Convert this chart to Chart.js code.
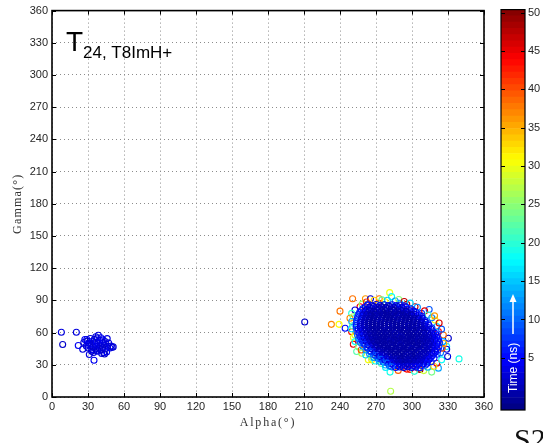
<!DOCTYPE html>
<html>
<head>
<meta charset="utf-8">
<script src="https://cdn.jsdelivr.net/npm/chart.js@4/dist/chart.umd.min.js"></script>
<style>
  html, body { margin: 0; padding: 0; background: #fff; overflow: hidden; }
  #wrap { position: relative; width: 543px; height: 443px; overflow: hidden; }
  #main { position: absolute; left: 0; top: 0; }
  #cbar { position: absolute; left: 495px; top: 0; }
  #tag {
    position: absolute; left: 514px; top: 424px;
    font: 30px "Liberation Serif", "DejaVu Serif", serif; line-height: 1; color: #111;
  }
</style>
</head>
<body>
<div id="wrap">
  <canvas id="main" width="543" height="443"></canvas>
  <canvas id="cbar" width="48" height="443"></canvas>
  <div id="tag">S2</div>
</div>
<script>
// axis ticks
const alphaTicks = [0, 30, 60, 90, 120, 150, 180, 210, 240, 270, 300, 330, 360];
const gammaTicks = [0, 30, 60, 90, 120, 150, 180, 210, 240, 270, 300, 330, 360];
const timeTicks = [5, 10, 15, 20, 25, 30, 35, 40, 45, 50];
const timeMin = -1.8;
const timeMax = 50.4;

// [alpha, gamma, time(ns)]
const leftCluster = [
  [7.8, 60.3, 3], [8.9, 48.9, 2], [20.3, 60.3, 3], [21.9, 48, 4],
  [25.6, 44.5, 3], [26.5, 50.8, 2], [27.4, 53.6, 4], [28.6, 47.4, 3], [29.2, 52.1, 2],
  [30.1, 45.6, 3], [30.8, 50.2, 4], [31.1, 39.6, 3], [31.9, 54.5, 2], [32.4, 48.3, 3],
  [33.2, 44.1, 4], [33.6, 51.9, 3], [34.1, 46.7, 2], [34.6, 41.5, 3], [35, 34.3, 4],
  [35.3, 53.8, 3], [35.8, 49.4, 2], [36.2, 44.8, 3], [36.9, 51.2, 4], [37.3, 47.2, 3],
  [37.7, 54.9, 2], [38.1, 42.6, 3], [38.6, 57.5, 3], [38.9, 49.8, 4], [39.4, 45.4, 2],
  [39.8, 52.6, 3], [40.3, 47.9, 3], [40.7, 55.2, 4], [41.2, 43.9, 2], [41.4, 40.5, 3],
  [41.8, 50.6, 3], [42.3, 46.1, 2], [42.6, 53.2, 4], [43.1, 41.2, 3], [43.5, 48.6, 3],
  [44.2, 44.7, 2], [44.6, 51.5, 3], [45.5, 42, 4], [46, 54.4, 3], [46.4, 47.3, 2],
  [47.2, 50.3, 3], [48.3, 45.6, 4], [49.2, 47.4, 3], [50.1, 46.3, 2], [51, 46.7, 3],
  [37, 43.4, 3], [33, 42.6, 2], [30, 49, 3], [29, 53.6, 4], [36.5, 56.2, 3], [43.8, 40.1, 2]
];

const blobCore = [
  [263, 85.8, 5], [266.6, 85.1, 4], [270.1, 86.2, 3], [273.4, 85.4, 6], [276.8, 85.9, 2],
  [280.2, 85.2, 4], [283.5, 86, 3], [286.9, 85.3, 5], [290.2, 85.7, 6], [293.4, 85, 7],
  [259.2, 82.3, 6], [262.4, 81.6, 4], [265.9, 82.5, 2], [269.3, 81.8, 3], [272.6, 82.1, 1],
  [276, 81.5, 2], [279.4, 82.4, 3], [282.7, 81.9, 1], [286.1, 82.2, 2], [289.3, 81.6, 4],
  [292.8, 82.4, 3], [296, 81.7, 5], [299.2, 82.1, 7],
  [256.4, 78.9, 7], [259.8, 78.2, 5], [263.2, 78.7, 3], [266.5, 78.1, 2], [269.9, 78.8, 1],
  [273.2, 78.3, 2], [276.6, 78.6, 1], [280, 78, 0], [283.3, 78.9, 2], [286.7, 78.2, 1],
  [290, 78.7, 2], [293.4, 78.1, 3], [296.7, 78.6, 2], [300.1, 78.3, 4], [303.4, 78.8, 6],
  [254.9, 75.3, 8], [258.2, 74.6, 5], [261.6, 75.2, 3], [264.9, 74.7, 2], [268.3, 75.4, 1],
  [271.7, 74.8, 2], [275, 75.1, 0], [278.4, 74.5, 1], [281.7, 75.3, 0], [285.1, 74.8, 1],
  [288.4, 75.2, 0], [291.8, 74.6, 2], [295.1, 75.3, 1], [298.5, 74.9, 2], [301.8, 75.2, 3],
  [305.2, 74.7, 5], [308.3, 75.1, 7],
  [253.9, 71.8, 8], [257.3, 71.1, 6], [260.7, 71.7, 3], [264, 71.2, 2], [267.4, 71.9, 1],
  [270.8, 71.3, 0], [274.1, 71.6, 1], [277.5, 71, 0], [280.8, 71.8, 1], [284.2, 71.2, 0],
  [287.5, 71.7, 0], [290.9, 71.1, 1], [294.2, 71.8, 0], [297.6, 71.3, 1], [300.9, 71.6, 2],
  [304.3, 71.1, 2], [307.6, 71.7, 4], [310.9, 71.2, 6],
  [253.4, 68.3, 9], [256.8, 67.6, 5], [260.1, 68.2, 3], [263.5, 67.7, 2], [266.9, 68.4, 1],
  [270.2, 67.8, 1], [273.6, 68.1, 0], [276.9, 67.5, 1], [280.3, 68.3, 0], [283.6, 67.8, 0],
  [287, 68.2, 1], [290.3, 67.6, 0], [293.7, 68.3, 0], [297, 67.7, 1], [300.4, 68.1, 0],
  [303.7, 67.6, 2], [307.1, 68.2, 3], [310.4, 67.8, 4], [313.6, 68.1, 7],
  [253.5, 64.8, 8], [256.9, 64.1, 4], [260.2, 64.7, 3], [263.6, 64.2, 2], [266.9, 64.9, 1],
  [270.3, 64.3, 0], [273.7, 64.6, 1], [277, 64, 0], [280.4, 64.8, 0], [283.7, 64.3, 1],
  [287.1, 64.7, 0], [290.4, 64.1, 0], [293.8, 64.8, 1], [297.1, 64.2, 0], [300.5, 64.6, 0],
  [303.8, 64.1, 1], [307.2, 64.7, 2], [310.5, 64.2, 3], [313.4, 64.8, 5], [316.6, 64.3, 7],
  [254.1, 61.3, 9], [257.4, 60.6, 5], [260.8, 61.2, 3], [264.1, 60.7, 2], [267.5, 61.4, 1],
  [270.8, 60.8, 1], [274.2, 61.1, 0], [277.6, 60.5, 0], [280.9, 61.3, 1], [284.3, 60.8, 0],
  [287.6, 61.2, 0], [291, 60.6, 1], [294.3, 61.3, 0], [297.7, 60.7, 0], [301, 61.1, 1],
  [304.4, 60.6, 0], [307.7, 61.2, 2], [311.1, 60.7, 2], [314.4, 61.3, 4], [317.7, 60.8, 6],
  [254.6, 57.8, 10], [258, 57.1, 6], [261.3, 57.7, 3], [264.7, 57.2, 2], [268, 57.9, 2],
  [271.4, 57.3, 1], [274.7, 57.6, 0], [278.1, 57, 1], [281.4, 57.8, 0], [284.8, 57.3, 0],
  [288.1, 57.7, 1], [291.5, 57.1, 0], [294.8, 57.8, 0], [298.2, 57.2, 0], [301.5, 57.6, 1],
  [304.9, 57.1, 0], [308.2, 57.7, 1], [311.6, 57.2, 2], [314.9, 57.8, 3], [318.3, 57.3, 5],
  [321, 57.6, 7],
  [255.6, 54.3, 9], [259, 53.6, 6], [262.3, 54.2, 4], [265.7, 53.7, 2], [269, 54.4, 1],
  [272.4, 53.8, 1], [275.7, 54.1, 0], [279.1, 53.5, 0], [282.4, 54.3, 1], [285.8, 53.8, 0],
  [289.1, 54.2, 0], [292.5, 53.6, 0], [295.8, 54.3, 1], [299.2, 53.7, 0], [302.5, 54.1, 0],
  [305.9, 53.6, 1], [309.2, 54.2, 1], [312.6, 53.7, 2], [315.9, 54.3, 3], [319.2, 53.8, 5],
  [322, 54.1, 7],
  [257.1, 50.8, 10], [260.4, 50.1, 6], [263.8, 50.7, 4], [267.1, 50.2, 2], [270.5, 50.9, 2],
  [273.8, 50.3, 1], [277.2, 50.6, 1], [280.5, 50, 0], [283.9, 50.8, 0], [287.2, 50.3, 1],
  [290.6, 50.7, 0], [293.9, 50.1, 0], [297.3, 50.8, 0], [300.6, 50.2, 1], [304, 50.6, 0],
  [307.3, 50.1, 1], [310.7, 50.7, 1], [314, 50.2, 2], [317.4, 50.8, 3], [320.7, 50.3, 5],
  [323, 50.6, 8],
  [259.1, 47.3, 11], [262.5, 46.6, 7], [265.8, 47.2, 4], [269.2, 46.7, 3], [272.5, 47.4, 2],
  [275.9, 46.8, 1], [279.2, 47.1, 1], [282.6, 46.5, 0], [285.9, 47.3, 1], [289.3, 46.8, 0],
  [292.6, 47.2, 0], [296, 46.6, 1], [299.3, 47.3, 0], [302.7, 46.7, 0], [306, 47.1, 1],
  [309.4, 46.6, 1], [312.7, 47.2, 2], [316.1, 46.7, 3], [319.4, 47.3, 4], [322.4, 46.8, 7],
  [261.6, 43.8, 12], [265, 43.1, 7], [268.3, 43.7, 4], [271.7, 43.2, 3], [275, 43.9, 2],
  [278.4, 43.3, 1], [281.7, 43.6, 1], [285.1, 43, 0], [288.4, 43.8, 1], [291.8, 43.3, 0],
  [295.1, 43.7, 0], [298.5, 43.1, 1], [301.8, 43.8, 0], [305.2, 43.2, 1], [308.5, 43.6, 1],
  [311.9, 43.1, 2], [315.2, 43.7, 2], [318.6, 43.2, 4], [321.6, 43.8, 6],
  [264.6, 40.3, 12], [268, 39.6, 8], [271.3, 40.2, 5], [274.7, 39.7, 3], [278, 40.4, 2],
  [281.4, 39.8, 2], [284.7, 40.1, 1], [288.1, 39.5, 1], [291.4, 40.3, 0], [294.8, 39.8, 1],
  [298.1, 40.2, 0], [301.5, 39.6, 1], [304.8, 40.3, 1], [308.2, 39.7, 2], [311.5, 40.1, 2],
  [314.9, 39.6, 3], [318.2, 40.2, 5], [321, 39.8, 8],
  [268.2, 36.8, 12], [271.6, 36.1, 8], [274.9, 36.7, 5], [278.3, 36.2, 4], [281.6, 36.9, 3],
  [285, 36.3, 2], [288.3, 36.6, 2], [291.7, 36, 1], [295, 36.8, 1], [298.4, 36.3, 2],
  [301.7, 36.7, 1], [305.1, 36.1, 2], [308.4, 36.8, 2], [311.8, 36.2, 3], [315.1, 36.6, 4],
  [318.3, 36.1, 6],
  [272.7, 33.3, 13], [276.1, 32.6, 9], [279.4, 33.2, 6], [282.8, 32.7, 4], [286.1, 33.4, 3],
  [289.5, 32.8, 3], [292.8, 33.1, 2], [296.2, 32.5, 2], [299.5, 33.3, 3], [302.9, 32.8, 2],
  [306.2, 33.2, 3], [309.6, 32.6, 4], [312.9, 33.3, 5], [316, 32.8, 7],
  [277.8, 29.8, 14], [281.2, 29.1, 10], [284.5, 29.7, 7], [287.9, 29.2, 5], [291.2, 29.9, 4],
  [294.6, 29.3, 4], [297.9, 29.6, 3], [301.3, 29, 4], [304.6, 29.8, 5], [308, 29.3, 6],
  [311.2, 29.7, 8]
];

// early-time hits filling the middle of the blob
const blobInner = [
  [261.1, 84.1, 4], [264.6, 83.5, 2], [268, 84.3, 1], [271.3, 83.6, 2], [274.7, 84, 1],
  [278.1, 83.4, 0], [281.4, 84.2, 1], [284.8, 83.7, 2], [288.2, 84.1, 1], [291.5, 83.5, 3],
  [294.9, 84, 4],
  [257.9, 80.6, 5], [261.3, 80, 2], [264.7, 80.5, 1], [268, 79.9, 0], [271.4, 80.7, 1],
  [274.8, 80.1, 0], [278.1, 80.4, 0], [281.5, 79.8, 1], [284.9, 80.6, 0], [288.2, 80.1, 0],
  [291.6, 80.5, 1], [295, 79.9, 0], [298.3, 80.4, 2], [301.5, 80, 4],
  [255.8, 77.1, 6], [259.2, 76.5, 2], [262.6, 77, 1], [265.9, 76.4, 0], [269.3, 77.2, 0],
  [272.7, 76.6, 1], [276, 76.9, 0], [279.4, 76.3, 0], [282.8, 77.1, 0], [286.1, 76.6, 1],
  [289.5, 77, 0], [292.9, 76.4, 0], [296.2, 77.1, 1], [299.6, 76.5, 0], [303, 76.9, 2],
  [306, 76.4, 4],
  [254.6, 73.6, 6], [258, 73, 2], [261.4, 73.5, 1], [264.7, 72.9, 0], [268.1, 73.7, 0],
  [271.5, 73.1, 1], [274.8, 73.4, 0], [278.2, 72.8, 0], [281.6, 73.6, 0], [284.9, 73.1, 0],
  [288.3, 73.5, 1], [291.7, 72.9, 0], [295, 73.6, 0], [298.4, 73, 0], [301.8, 73.4, 1],
  [305.1, 72.9, 0], [308.5, 73.5, 3],
  [253.8, 70.1, 7], [257.2, 69.5, 2], [260.6, 70, 1], [263.9, 69.4, 0], [267.3, 70.2, 0],
  [270.7, 69.6, 0], [274, 69.9, 1], [277.4, 69.3, 0], [280.8, 70.1, 0], [284.1, 69.6, 0],
  [287.5, 70, 0], [290.9, 69.4, 1], [294.2, 70.1, 0], [297.6, 69.5, 0], [301, 69.9, 0],
  [304.3, 69.4, 1], [307.7, 70, 1], [311.1, 69.5, 3],
  [253.6, 66.6, 6], [257, 66, 2], [260.4, 66.5, 1], [263.7, 65.9, 0], [267.1, 66.7, 0],
  [270.5, 66.1, 0], [273.8, 66.4, 0], [277.2, 65.8, 0], [280.6, 66.6, 1], [283.9, 66.1, 0],
  [287.3, 66.5, 0], [290.7, 65.9, 0], [294, 66.6, 0], [297.4, 66, 1], [300.8, 66.4, 0],
  [304.1, 65.9, 0], [307.5, 66.5, 1], [310.9, 66, 2], [314.2, 66.6, 4],
  [255.2, 63.1, 4], [258.6, 62.5, 2], [262, 63, 1], [265.3, 62.4, 0], [268.7, 63.2, 0],
  [272.1, 62.6, 0], [275.4, 62.9, 0], [278.8, 62.3, 1], [282.2, 63.1, 0], [285.5, 62.6, 0],
  [288.9, 63, 0], [292.3, 62.4, 0], [295.6, 63.1, 0], [299, 62.5, 0], [302.4, 62.9, 1],
  [305.7, 62.4, 0], [309.1, 63, 1], [312.5, 62.5, 2], [315.8, 63.1, 3],
  [255.8, 59.6, 5], [259.2, 59, 2], [262.6, 59.5, 1], [265.9, 58.9, 0], [269.3, 59.7, 0],
  [272.7, 59.1, 0], [276, 59.4, 0], [279.4, 58.8, 0], [282.8, 59.6, 0], [286.1, 59.1, 1],
  [289.5, 59.5, 0], [292.9, 58.9, 0], [296.2, 59.6, 0], [299.6, 59, 0], [303, 59.4, 0],
  [306.3, 58.9, 1], [309.7, 59.5, 0], [313.1, 59, 1], [316.4, 59.6, 2], [319.6, 59.1, 4],
  [256.8, 56.1, 6], [260.2, 55.5, 2], [263.6, 56, 1], [266.9, 55.4, 0], [270.3, 56.2, 0],
  [273.7, 55.6, 0], [277, 55.9, 0], [280.4, 55.3, 0], [283.8, 56.1, 0], [287.1, 55.6, 0],
  [290.5, 56, 1], [293.9, 55.4, 0], [297.2, 56.1, 0], [300.6, 55.5, 0], [304, 55.9, 0],
  [307.3, 55.4, 0], [310.7, 56, 1], [314.1, 55.5, 1], [317.4, 56.1, 2], [320.6, 55.6, 4],
  [258.3, 52.6, 6], [261.7, 52, 2], [265.1, 52.5, 1], [268.4, 51.9, 0], [271.8, 52.7, 0],
  [275.2, 52.1, 0], [278.5, 52.4, 0], [281.9, 51.8, 1], [285.3, 52.6, 0], [288.6, 52.1, 0],
  [292, 52.5, 0], [295.4, 51.9, 0], [298.7, 52.6, 0], [302.1, 52, 0], [305.5, 52.4, 1],
  [308.8, 51.9, 0], [312.2, 52.5, 1], [315.6, 52, 1], [318.9, 52.6, 3], [321.9, 52.1, 5],
  [260.2, 49.1, 7], [263.6, 48.5, 3], [267, 49, 1], [270.3, 48.4, 0], [273.7, 49.2, 0],
  [277.1, 48.6, 0], [280.4, 48.9, 0], [283.8, 48.3, 0], [287.2, 49.1, 0], [290.5, 48.6, 1],
  [293.9, 49, 0], [297.3, 48.4, 0], [300.6, 49.1, 0], [304, 48.5, 0], [307.4, 48.9, 0],
  [310.7, 48.4, 1], [314.1, 49, 1], [317.5, 48.5, 2], [320.8, 49.1, 4],
  [262.8, 45.6, 7], [266.2, 45, 3], [269.6, 45.5, 1], [272.9, 44.9, 0], [276.3, 45.7, 0],
  [279.7, 45.1, 0], [283, 45.4, 0], [286.4, 44.8, 0], [289.8, 45.6, 0], [293.1, 45.1, 0],
  [296.5, 45.5, 0], [299.9, 44.9, 1], [303.2, 45.6, 0], [306.6, 45, 0], [310, 45.4, 1],
  [313.3, 44.9, 1], [316.7, 45.5, 2], [320.1, 45, 4],
  [265.8, 42.1, 8], [269.2, 41.5, 3], [272.6, 42, 1], [275.9, 41.4, 1], [279.3, 42.2, 0],
  [282.7, 41.6, 0], [286, 41.9, 0], [289.4, 41.3, 0], [292.8, 42.1, 0], [296.1, 41.6, 0],
  [299.5, 42, 0], [302.9, 41.4, 0], [306.2, 42.1, 1], [309.6, 41.5, 1], [313, 41.9, 1],
  [316.3, 41.4, 2], [319.5, 42, 4],
  [269.6, 38.6, 8], [273, 38, 3], [276.4, 38.5, 2], [279.7, 37.9, 1], [283.1, 38.7, 0],
  [286.5, 38.1, 0], [289.8, 38.4, 0], [293.2, 37.8, 0], [296.6, 38.6, 1], [299.9, 38.1, 0],
  [303.3, 38.5, 0], [306.7, 37.9, 1], [310, 38.6, 1], [313.4, 38, 2], [316.8, 38.4, 4],
  [274, 35.1, 9], [277.4, 34.5, 4], [280.8, 35, 2], [284.1, 34.4, 1], [287.5, 35.2, 1],
  [290.9, 34.6, 0], [294.2, 34.9, 0], [297.6, 34.3, 1], [301, 35.1, 0], [304.3, 34.6, 1],
  [307.7, 35, 1], [311.1, 34.4, 2], [314.3, 35.1, 4],
  [279.3, 31.6, 9], [282.7, 31, 4], [286, 31.5, 2], [289.4, 30.9, 1], [292.8, 31.7, 1],
  [296.1, 31.1, 1], [299.5, 31.4, 1], [302.9, 30.8, 2], [306.2, 31.6, 2], [309.6, 31, 3],
  [312.6, 31.5, 5],
  [283, 28.1, 10], [286.4, 27.5, 5], [289.8, 28, 3], [293.1, 27.4, 2], [296.5, 28.2, 3],
  [299.9, 27.6, 3], [303.3, 27.9, 4], [306.5, 27.3, 6]
];

const blobEdge = [
  [210.6, 69.9, 2],
  [250.5, 91.6, 38], [261.2, 91.6, 36], [265.4, 91.5, 3], [272.7, 91.6, 38], [281.4, 97.2, 30],
  [283, 93.5, 18], [271.9, 87.2, 44], [277.5, 88.8, 31], [290, 87.2, 14], [295.6, 86.3, 48],
  [302.5, 84.1, 47], [308, 77.9, 7], [314.3, 81.5, 9], [256.7, 84.1, 44], [263.6, 85.6, 9],
  [252.5, 81, 3], [249.7, 77.9, 20], [248.3, 73.3, 37], [240, 80, 38], [239.2, 67.7, 31],
  [232.8, 67.7, 37], [244.3, 64, 5], [249.7, 60.9, 43], [252.5, 57.8, 28], [255.3, 52.2, 8],
  [251.1, 49.2, 45], [253.9, 42.4, 22], [258.1, 40.8, 27], [260.8, 44.8, 31], [263.6, 34.6, 30],
  [266.4, 34.6, 32], [271.9, 37.7, 8], [275, 36, 10],
  [281.7, 23.2, 19], [285.8, 27.8, 31], [291.4, 28.5, 14], [295.6, 26, 44], [305.3, 26.9, 45],
  [306.7, 25.7, 49], [298.3, 25.7, 42], [316.4, 23.2, 24], [322, 26.9, 13], [320.6, 31.5, 44],
  [324.7, 34.6, 18], [329.7, 37.7, 3], [339.2, 35.5, 19], [282.2, 5.3, 27],
  [328.9, 47, 17], [330.3, 54.7, 2], [326.1, 57.8, 38], [322, 60.9, 44], [320.6, 65.6, 15],
  [319.2, 71.7, 30], [328.9, 44.5, 3],
  [258.5, 86.5, 26], [262, 88.5, 41], [268.5, 90.2, 33], [275, 90.5, 23], [279.5, 90.1, 15],
  [286, 89.4, 12], [289, 90.8, 25], [293.5, 89, 47], [298.5, 87.5, 16], [304.5, 83.6, 12],
  [310.5, 80.2, 45], [313.5, 76.4, 21], [316.5, 73.9, 11],
  [251, 74.8, 26], [249.8, 70.4, 13], [250.4, 66.3, 22], [249.5, 63.6, 16], [251.2, 55.4, 30],
  [252.6, 51.6, 18], [255.5, 46.7, 25], [257.7, 43.8, 40], [261.5, 39.2, 16], [266.5, 36.8, 24],
  [269.2, 33.6, 19], [274.5, 31.2, 22], [278, 27.6, 17],
  [288.5, 24.8, 39], [302, 23.9, 20], [309.8, 24.6, 28], [313, 27.8, 14], [318.2, 28.7, 33],
  [323.8, 41.2, 11], [325.2, 45.5, 40], [325.8, 51.6, 13], [324.6, 63.2, 9], [322.6, 68.9, 46],
  [318.8, 75.6, 36], [326.5, 49.8, 35]
];

// MATLAB style jet colour map over the colour bar range
function jet(t) {
  const v = (t - timeMin) / (timeMax - timeMin);
  const c = (x) => Math.round(255 * Math.max(0, Math.min(1, x)));
  return `rgb(${c(1.5 - Math.abs(4 * v - 3))},${c(1.5 - Math.abs(4 * v - 2))},${c(1.5 - Math.abs(4 * v - 1))})`;
}

function scatterSet(points) {
  return {
    data: points.map((p) => ({ x: p[0], y: p[1] })),
    pointBorderColor: points.map((p) => jet(p[2])),
    pointBackgroundColor: "rgba(0,0,0,0)",
    pointRadius: 3,
    pointBorderWidth: 1.1,
    pointHoverRadius: 3,
    showLine: false,
  };
}

const tickFont = { family: "'Liberation Sans', Arial, sans-serif", size: 11 };

// frame, inward ticks, axis titles and label text
const framePlugin = {
  id: "frame",
  afterDraw(chart) {
    const { ctx, chartArea: a, scales } = chart;
    ctx.save();
    ctx.strokeStyle = "#000";
    ctx.lineWidth = 1;
    ctx.beginPath();
    alphaTicks.forEach((v) => {
      const x = Math.round(scales.x.getPixelForValue(v)) + 0.5;
      ctx.moveTo(x, a.bottom); ctx.lineTo(x, a.bottom - 4);
      ctx.moveTo(x, a.top); ctx.lineTo(x, a.top + 4);
    });
    gammaTicks.forEach((v) => {
      const y = Math.round(scales.y.getPixelForValue(v)) + 0.5;
      ctx.moveTo(a.left, y); ctx.lineTo(a.left + 4, y);
      ctx.moveTo(a.right, y); ctx.lineTo(a.right - 4, y);
    });
    ctx.stroke();
    ctx.lineWidth = 1.6;
    ctx.strokeRect(a.left, a.top, a.right - a.left, a.bottom - a.top);

    ctx.fillStyle = "#333";
    ctx.font = "12px 'Liberation Serif', 'DejaVu Serif', serif";
    ctx.letterSpacing = "1.8px";
    ctx.textAlign = "center";
    ctx.textBaseline = "middle";
    ctx.fillText("Alpha(°)", (a.left + a.right) / 2, 423);
    ctx.save();
    ctx.translate(18, (a.top + a.bottom) / 2);
    ctx.rotate(-Math.PI / 2);
    ctx.letterSpacing = "1.2px";
    ctx.fillText("Gamma(°)", 0, 0);
    ctx.restore();
    ctx.letterSpacing = "0px";

    ctx.fillStyle = "#000";
    ctx.textAlign = "left";
    ctx.textBaseline = "alphabetic";
    ctx.font = "28px 'Liberation Sans', Arial, sans-serif";
    ctx.fillText("T", 66, 51);
    ctx.font = "17px 'Liberation Sans', Arial, sans-serif";
    ctx.fillText("24, T8ImH+", 83, 58);
    ctx.restore();
  },
};

new Chart(document.getElementById("main"), {
  type: "scatter",
  data: {
    datasets: [
      scatterSet(blobInner),
      scatterSet(blobCore),
      scatterSet(blobEdge),
      scatterSet(leftCluster),
    ],
  },
  options: {
    responsive: false,
    animation: false,
    events: [],
    layout: { padding: { top: 9, right: 59, left: 0, bottom: 0 } },
    plugins: { legend: { display: false }, tooltip: { enabled: false } },
    scales: {
      x: {
        type: "linear",
        min: 0,
        max: 360,
        afterBuildTicks: (s) => { s.ticks = alphaTicks.map((v) => ({ value: v })); },
        afterFit: (s) => { s.height = 46; },
        ticks: { font: tickFont, color: "#262626", padding: 3, maxRotation: 0 },
        grid: { color: "#8c8c8c", lineWidth: 1, drawTicks: false },
        border: { display: false, dash: [1, 3] },
      },
      y: {
        type: "linear",
        min: 0,
        max: 360,
        afterBuildTicks: (s) => { s.ticks = gammaTicks.map((v) => ({ value: v })); },
        afterFit: (s) => { s.width = 52; },
        ticks: { font: tickFont, color: "#262626", padding: 4 },
        grid: { color: "#8c8c8c", lineWidth: 1, drawTicks: false },
        border: { display: false, dash: [1, 3] },
      },
    },
  },
  plugins: [framePlugin],
});

// colour bar: 64 bands of the jet map stacked along the time axis
const bandCount = 64;
const bands = [];
for (let i = 0; i < bandCount; i++) {
  const lo = timeMin + (i * (timeMax - timeMin)) / bandCount;
  const hi = timeMin + ((i + 1) * (timeMax - timeMin)) / bandCount;
  bands.push({ lo, hi, color: jet((lo + hi) / 2) });
}

const cbarPlugin = {
  id: "cbarDeco",
  afterDraw(chart) {
    const { ctx, chartArea: a, scales } = chart;
    ctx.save();
    ctx.strokeStyle = "#000";
    ctx.lineWidth = 1;
    ctx.beginPath();
    timeTicks.forEach((v) => {
      const y = Math.round(scales.y.getPixelForValue(v)) + 0.5;
      ctx.moveTo(a.right, y); ctx.lineTo(a.right - 4, y);
      ctx.moveTo(a.left, y); ctx.lineTo(a.left + 4, y);
    });
    ctx.stroke();
    ctx.lineWidth = 1.2;
    ctx.strokeRect(a.left, a.top, a.right - a.left, a.bottom - a.top);

    // axis caption with upward arrow
    const cx = (a.left + a.right) / 2;
    ctx.fillStyle = "#fff";
    ctx.strokeStyle = "#fff";
    ctx.save();
    ctx.translate(cx + 4, a.bottom - 17);
    ctx.rotate(-Math.PI / 2);
    ctx.font = "12px 'Liberation Sans', Arial, sans-serif";
    ctx.textAlign = "left";
    ctx.textBaseline = "alphabetic";
    ctx.fillText("Time (ns)", 0, 0);
    ctx.restore();
    const yTail = a.bottom - 76;
    const yTip = a.bottom - 116;
    ctx.lineWidth = 1.5;
    ctx.beginPath();
    ctx.moveTo(cx, yTail); ctx.lineTo(cx, yTip + 6);
    ctx.stroke();
    ctx.beginPath();
    ctx.moveTo(cx, yTip); ctx.lineTo(cx - 3.5, yTip + 8); ctx.lineTo(cx + 3.5, yTip + 8);
    ctx.closePath();
    ctx.fill();
    ctx.restore();
  },
};

new Chart(document.getElementById("cbar"), {
  type: "bar",
  data: {
    labels: ["t"],
    datasets: bands.map((b) => ({
      data: [[b.lo, b.hi]],
      backgroundColor: b.color,
      borderWidth: 0,
      barPercentage: 1,
      categoryPercentage: 1,
      grouped: false,
    })),
  },
  options: {
    responsive: false,
    animation: false,
    events: [],
    layout: { padding: { top: 9, bottom: 33, left: 6, right: 0 } },
    plugins: { legend: { display: false }, tooltip: { enabled: false } },
    scales: {
      x: { display: false },
      y: {
        position: "right",
        min: timeMin,
        max: timeMax,
        afterBuildTicks: (s) => { s.ticks = timeTicks.map((v) => ({ value: v })); },
        afterFit: (s) => { s.width = 18; },
        ticks: { font: tickFont, color: "#262626", padding: 3 },
        grid: { display: false, drawTicks: false },
        border: { display: false },
      },
    },
  },
  plugins: [cbarPlugin],
});
</script>
</body>
</html>
